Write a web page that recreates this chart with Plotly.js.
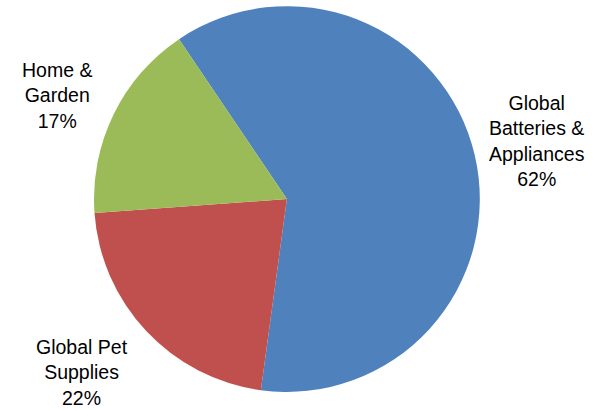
<!DOCTYPE html>
<html>
<head>
<meta charset="utf-8">
<script src="https://cdn.plot.ly/plotly-3.0.1.min.js"></script>
<style>html,body{margin:0;padding:0;background:#fff;}#chart{width:594px;height:410px;}</style>
</head>
<body>
<div id="chart"></div>
<script>
const categories = ["Global<br>Batteries &<br>Appliances", "Global Pet<br>Supplies", "Home &<br>Garden"];
const shares = [61.6, 21.7, 16.7];
const colors = ["#4F81BD", "#C0504D", "#9BBB59"];

const total = shares.reduce((a, b) => a + b, 0);
const labelPos = [
  {x: 0.904, y: 0.655},
  {x: 0.138, y: 0.092},
  {x: 0.096, y: 0.768}
];
const annotations = categories.map((c, i) => ({
  xref: "paper", yref: "paper",
  x: labelPos[i].x, y: labelPos[i].y,
  xanchor: "center", yanchor: "middle",
  showarrow: false, align: "center",
  text: c + "<br>" + Math.round(shares[i] / total * 100) + "%",
  font: {family: "Liberation Sans, Arial, sans-serif", size: 19.5, color: "#000"}
}));

Plotly.newPlot("chart", [{
  type: "pie",
  labels: categories,
  values: shares,
  marker: {colors: colors, line: {width: 0}},
  sort: false,
  direction: "clockwise",
  rotation: -34,
  textinfo: "none",
  hoverinfo: "label+percent",
  domain: {x: [0.158, 0.808], y: [0.044, 0.985]}
}], {
  width: 594, height: 410,
  margin: {l: 0, r: 0, t: 0, b: 0},
  showlegend: false,
  paper_bgcolor: "#fff",
  annotations: annotations
}, {displayModeBar: false, staticPlot: true});
</script>
</body>
</html>
